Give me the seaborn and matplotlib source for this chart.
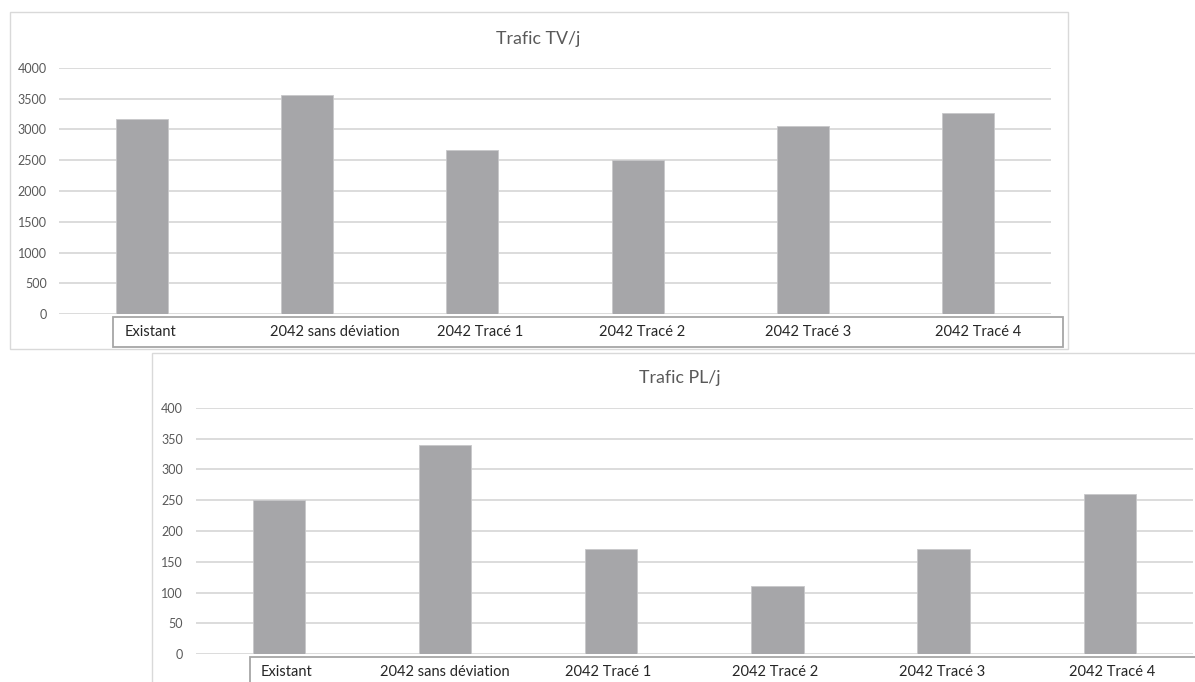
import matplotlib
matplotlib.use("Agg")
import matplotlib.pyplot as plt
from matplotlib.patches import Rectangle
from matplotlib.transforms import ScaledTranslation
import seaborn as sb
import pandas as pd

# data
categories = ["Existant", "2042 sans déviation", "2042 Tracé 1",
              "2042 Tracé 2", "2042 Tracé 3", "2042 Tracé 4"]
trafic_tv = [3165, 3565, 2660, 2510, 3055, 3265]
trafic_pl = [250, 340, 170, 110, 170, 260]
ticks_tv = [0, 500, 1000, 1500, 2000, 2500, 3000, 3500, 4000]
ticks_pl = [0, 50, 100, 150, 200, 250, 300, 350, 400]

W, H = 1195, 682
BAR = "#a6a6a9"
GRID = "#d9d9d9"
TXT = "#595959"

sb.set_style("white")
plt.rcParams["font.family"] = ["Lato", "DejaVu Sans"]


def px_rect(fig, x0, y0, x1, y1, color, lw):
    """draw a rectangle given in pixel coords (origin top left)"""
    fig.add_artist(Rectangle((x0 / W, 1 - y1 / H), (x1 - x0) / W,
                             (y1 - y0) / H, transform=fig.transFigure,
                             fill=False, edgecolor=color, linewidth=lw,
                             clip_on=False))


def panel(fig, box, values, ticks, title, title_x, title_y, shifts):
    left, top, right, bottom = box
    ax = fig.add_axes([left / W, 1 - bottom / H, (right - left) / W,
                       (bottom - top) / H])
    df = pd.DataFrame({"cat": categories, "val": values})
    sb.barplot(data=df, x="cat", y="val", color=BAR, saturation=1,
               width=0.315, ax=ax, zorder=3, edgecolor="#c8c8ca",
               linewidth=0.6)
    ax.set_ylim(ticks[0], ticks[-1])
    ax.set_yticks(ticks)
    ax.set_yticklabels([str(t) for t in ticks])
    ax.yaxis.grid(True, color=GRID, linewidth=1.3, zorder=0)
    ax.set_axisbelow(True)
    ax.tick_params(axis="y", length=0, pad=9, labelsize=9,
                   labelcolor=TXT)
    ax.set_xticks([])
    ax.set_xlabel("")
    ax.set_ylabel("")
    for s in ax.spines.values():
        s.set_visible(False)
    # category labels sit in a box under the axis
    for i, (lab, dx) in enumerate(zip(categories, shifts)):
        tr = ax.get_xaxis_transform() + ScaledTranslation(
            dx / 100, -18 / 100, fig.dpi_scale_trans)
        ax.text(i, 0, lab, transform=tr, ha="center", va="center",
                fontsize=10.5, color="#262626", clip_on=False)
    fig.text(title_x / W, 1 - title_y / H, title, ha="center",
             va="baseline", fontsize=12.8, color=TXT)
    return ax


def main():
    fig = plt.figure(figsize=(W / 100, H / 100), dpi=100)

    # panel frames
    px_rect(fig, 9.5, 11.7, 1067.5, 349, GRID, 1.0)
    px_rect(fig, 152.3, 352.5, 1205, 700, GRID, 1.0)
    # label boxes
    px_rect(fig, 113, 317, 1063, 347, "#a6a6a6", 1.3)
    px_rect(fig, 249.5, 656.5, 1205, 700, "#a6a6a6", 1.3)

    panel(fig, (59.4, 67.7, 1050.6, 314.3), trafic_tv, ticks_tv,
          "Trafic TV/j", 538.5, 44, [8, 28, 8, 5, 5, 10])
    panel(fig, (195.6, 407.7, 1193, 654.3), trafic_pl, ticks_pl,
          "Trafic PL/j", 680, 383, [8, 0, -3, -2, -2, 2])

    fig.savefig("out.png", dpi=100)


if __name__ == "__main__":
    main()
